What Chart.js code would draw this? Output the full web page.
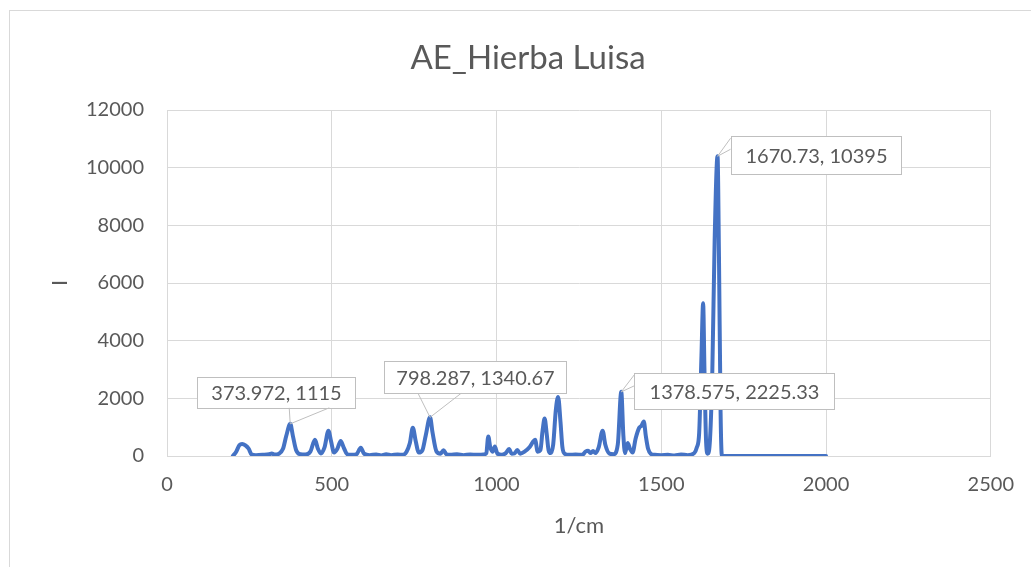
<!DOCTYPE html>
<html>
<head>
<meta charset="utf-8">
<script src="https://cdn.jsdelivr.net/npm/chart.js@4.4.0/dist/chart.umd.min.js"></script>
<style>
  html, body { margin: 0; padding: 0; background: #fff; }
  #wrap { width: 1031px; height: 567px; }
</style>
</head>
<body>
<div id="wrap"><canvas id="ramanChart" width="1031" height="567"></canvas></div>
<script>
const chartTitle = 'AE_Hierba Luisa';
const xAxisTitle = '1/cm';
const yAxisTitle = 'I';

// Spectre (1/cm, intensité)
const wavenumbers = [
  200, 210, 220, 228, 238, 248, 256, 270, 290, 310, 318, 326, 340, 352, 362, 373.972, 382, 392,
  405, 420, 435, 449, 458, 467, 478, 490, 498, 507, 517, 527, 536, 547, 560, 575, 588, 598,
  615, 635, 650, 665, 680, 700, 715, 727, 737, 746, 755, 764, 775, 785, 798.287, 806, 818,
  830, 839, 848, 860, 880, 900, 920, 940, 960, 969, 975, 981, 988, 995, 1002, 1015, 1028,
  1038, 1046, 1055, 1063, 1072, 1085, 1100, 1110, 1117, 1125, 1133, 1140, 1146, 1152, 1158,
  1164, 1172, 1180, 1187, 1194, 1200, 1207, 1220, 1240, 1260, 1270, 1278, 1285, 1293, 1300,
  1310, 1322, 1330, 1343, 1355, 1368, 1378.575, 1385, 1390, 1398, 1405, 1413, 1422, 1433,
  1440, 1447, 1453, 1460, 1468, 1480, 1500, 1520, 1540, 1560, 1580, 1600, 1608, 1615, 1622,
  1627, 1631, 1636, 1641, 1648, 1655, 1662, 1670.73, 1675, 1680, 1684, 2000
];
const intensities = [
  0, 150, 380, 420, 370, 250, 60, 30, 40, 60, 90, 50, 80, 250, 700, 1115, 700, 200,
  60, 50, 150, 560, 250, 90, 300, 880, 500, 120, 250, 520, 300, 60, 40, 60, 290, 80,
  30, 50, 20, 60, 30, 50, 40, 150, 450, 980, 500, 120, 200, 700, 1340.67, 800, 150,
  80, 200, 60, 40, 60, 30, 50, 40, 50, 100, 680, 300, 150, 330, 100, 40, 100,
  240, 80, 90, 210, 80, 150, 300, 480, 560, 150, 200, 900, 1300, 800, 200,
  100, 400, 1600, 2050, 1200, 300, 80, 40, 50, 40, 150, 180, 100, 170, 100,
  300, 880, 400, 80, 60, 400, 2225.33, 700, 100, 450, 250, 120, 600, 980,
  1050, 1200, 700, 250, 80, 40, 30, 40, 20, 50, 30, 100, 300, 800, 3500,
  5300, 3000, 500, 80, 600, 3000, 7500, 10395, 7000, 1500, 0, 0
];
const xTicks = [0, 500, 1000, 1500, 2000, 2500];
const yTicks = [0, 2000, 4000, 6000, 8000, 10000, 12000];
const labelledPoints = [373.972, 798.287, 1378.575, 1670.73];

// position des bulles par rapport au point (px) : boîte + base de la pointe
const calloutLayout = [
  { box: [-93, -47, 158, 31], wedge: [[-1, -16], [39, -16]] },
  { box: [-46, -56, 182, 32], wedge: [[-12, -24], [31, -24]] },
  { box: [13, -19, 200, 36], wedge: [[13, -17], [13, -6]] },
  { box: [13, -20, 170, 38], wedge: [[13, -18], [13, -7]] }
];

const textColor = '#595959';
const gridColor = '#D9D9D9';
const fontFamily = 'Lato, "Open Sans", sans-serif';

const points = wavenumbers.map((x, i) => ({ x: x, y: intensities[i] }));

const decorPlugin = {
  id: 'decor',
  afterDatasetsDraw(chart) {
    const ctx = chart.ctx;
    const xs = chart.scales.x;
    const ys = chart.scales.y;
    ctx.save();
    ctx.font = '20px ' + fontFamily;
    ctx.textAlign = 'center';
    ctx.textBaseline = 'middle';
    labelledPoints.forEach((xv, k) => {
      const idx = wavenumbers.indexOf(xv);
      const px = xs.getPixelForValue(xv);
      const py = ys.getPixelForValue(intensities[idx]);
      const lay = calloutLayout[k];
      const bx = Math.round(px + lay.box[0]) + 0.5;
      const by = Math.round(py + lay.box[1]) + 0.5;
      const bw = lay.box[2];
      const bh = lay.box[3];
      ctx.fillStyle = '#fff';
      ctx.strokeStyle = '#BFBFBF';
      ctx.lineWidth = 1;
      ctx.fillRect(bx, by, bw, bh);
      ctx.strokeRect(bx, by, bw, bh);
      ctx.beginPath();
      ctx.moveTo(px + lay.wedge[0][0], py + lay.wedge[0][1]);
      ctx.lineTo(px, py);
      ctx.lineTo(px + lay.wedge[1][0], py + lay.wedge[1][1]);
      ctx.stroke();
      ctx.fillStyle = textColor;
      ctx.fillText(xv + ', ' + intensities[idx], bx + bw / 2, by + bh / 2 + 1);
    });
    ctx.restore();
  },
  afterDraw(chart) {
    const ctx = chart.ctx;
    const area = chart.chartArea;
    ctx.save();
    // cadre du graphique
    ctx.strokeStyle = gridColor;
    ctx.lineWidth = 1;
    ctx.strokeRect(9.5, 10.5, 1100, 600);
    ctx.fillStyle = textColor;
    ctx.textAlign = 'center';
    ctx.textBaseline = 'middle';
    ctx.font = '33px ' + fontFamily;
    ctx.fillText(chartTitle, 528, 58);
    ctx.font = '22px ' + fontFamily;
    ctx.fillText(xAxisTitle, (area.left + area.right) / 2, 526);
    ctx.translate(60, (area.top + area.bottom) / 2);
    ctx.rotate(-Math.PI / 2);
    ctx.fillText(yAxisTitle, 0, 0);
    ctx.restore();
  }
};

function initChart() {
  const ctx = document.getElementById('ramanChart').getContext('2d');
  new Chart(ctx, {
    type: 'scatter',
    data: {
      datasets: [{
        label: chartTitle,
        data: points,
        showLine: true,
        borderColor: '#4472C4',
        backgroundColor: '#4472C4',
        borderWidth: 4,
        pointRadius: 0,
        cubicInterpolationMode: 'monotone',
        borderJoinStyle: 'round',
        borderCapStyle: 'round'
      }]
    },
    options: {
      responsive: false,
      animation: false,
      devicePixelRatio: 1,
      layout: { padding: { top: 110, right: 36, left: 0, bottom: 0 } },
      plugins: {
        legend: { display: false },
        tooltip: { enabled: false }
      },
      scales: {
        x: {
          type: 'linear',
          min: xTicks[0],
          max: xTicks[xTicks.length - 1],
          afterBuildTicks: s => { s.ticks = xTicks.map(v => ({ value: v })); },
          afterFit: s => { s.height = 111; },
          ticks: { color: textColor, font: { family: fontFamily, size: 20 }, padding: 17, callback: v => String(v) },
          grid: { color: gridColor, drawTicks: false },
          border: { color: gridColor }
        },
        y: {
          type: 'linear',
          min: yTicks[0],
          max: yTicks[yTicks.length - 1],
          afterBuildTicks: s => { s.ticks = yTicks.map(v => ({ value: v })); },
          afterFit: s => { s.width = 167; },
          ticks: { color: textColor, font: { family: fontFamily, size: 20 }, padding: 23, callback: v => String(v) },
          grid: { color: gridColor, drawTicks: false },
          border: { color: gridColor }
        }
      }
    },
    plugins: [decorPlugin]
  });
}

document.fonts.load('20px Lato').then(initChart, initChart);
</script>
</body>
</html>
